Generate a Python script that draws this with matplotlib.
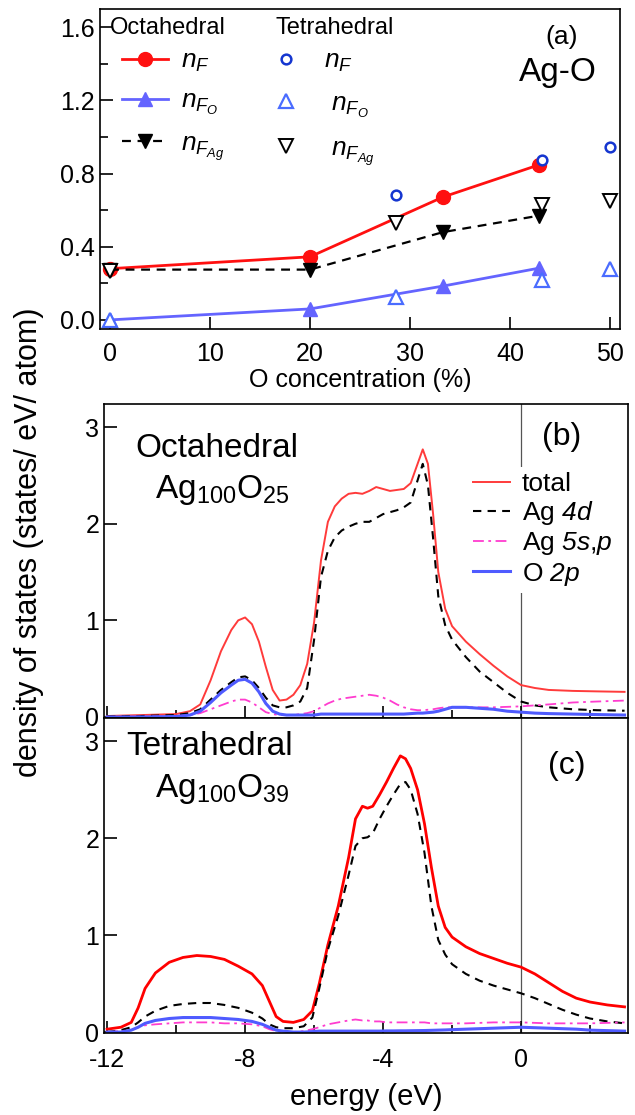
import matplotlib
matplotlib.use("Agg")
import matplotlib.pyplot as plt
from matplotlib.ticker import MultipleLocator

plt.rcParams['font.family'] = ['Liberation Sans', 'DejaVu Sans']
plt.rcParams['mathtext.fontset'] = 'custom'
plt.rcParams['mathtext.rm'] = 'Liberation Sans'
plt.rcParams['mathtext.it'] = 'Liberation Sans:italic'
plt.rcParams['mathtext.sf'] = 'Liberation Sans:italic'
plt.rcParams['axes.unicode_minus'] = False
plt.rcParams['axes.linewidth'] = 1.2

# ---- panel (a): n_F vs O concentration ----
conc_oct = [0, 20, 33.3, 42.9]
nF_oct = [0.28, 0.345, 0.672, 0.848]
nFO_oct = [0.0, 0.06, 0.185, 0.283]
nFAg_oct = [0.275, 0.275, 0.48, 0.57]

conc_tet = [0, 28.6, 43.2, 50]
nF_tet = [None, 0.684, 0.872, 0.948]
nFO_tet = [0.0, 0.126, 0.218, 0.277]
nFAg_tet = [0.27, 0.53, 0.63, 0.65]

# ---- panel (b): octahedral Ag100O25 DOS ----
energy_b = [-12.0, -11.0, -10.0, -9.6, -9.3, -9.0, -8.7, -8.4, -8.2, -8.0,
            -7.8, -7.6, -7.4, -7.2, -7.0, -6.8, -6.6, -6.4, -6.2, -6.0,
            -5.8, -5.6, -5.4, -5.2, -5.0, -4.8, -4.6, -4.4, -4.2, -4.0,
            -3.8, -3.6, -3.4, -3.2, -3.0, -2.85, -2.7, -2.55, -2.4, -2.2,
            -2.0, -1.6, -1.2, -0.8, -0.4, 0.0, 0.4, 0.8, 1.5, 2.2, 3.0]
total_b = [0.01, 0.02, 0.03, 0.06, 0.13, 0.38, 0.68, 0.90, 1.00, 1.03,
           0.96, 0.78, 0.52, 0.28, 0.17, 0.18, 0.23, 0.33, 0.55, 0.98,
           1.62, 2.02, 2.18, 2.26, 2.31, 2.32, 2.31, 2.34, 2.38, 2.36,
           2.34, 2.35, 2.36, 2.42, 2.62, 2.77, 2.62, 2.10, 1.50, 1.12,
           0.94, 0.78, 0.65, 0.53, 0.42, 0.33, 0.30, 0.28, 0.27, 0.265, 0.26]
ag4d_b = [0.005, 0.01, 0.02, 0.04, 0.08, 0.18, 0.28, 0.36, 0.41, 0.42,
          0.38, 0.30, 0.20, 0.12, 0.10, 0.10, 0.12, 0.16, 0.30, 0.80,
          1.45, 1.72, 1.86, 1.93, 1.97, 2.00, 2.02, 2.02, 2.06, 2.10,
          2.12, 2.14, 2.17, 2.22, 2.45, 2.62, 2.40, 1.85, 1.25, 0.95,
          0.80, 0.62, 0.47, 0.36, 0.25, 0.16, 0.12, 0.10, 0.08, 0.07, 0.065]
ag5sp_b = [0.0, 0.005, 0.01, 0.02, 0.04, 0.08, 0.12, 0.16, 0.18, 0.18,
           0.15, 0.10, 0.05, 0.03, 0.02, 0.02, 0.02, 0.03, 0.04, 0.06,
           0.10, 0.14, 0.17, 0.19, 0.20, 0.21, 0.22, 0.23, 0.22, 0.20,
           0.17, 0.13, 0.10, 0.08, 0.07, 0.07, 0.075, 0.08, 0.09, 0.10,
           0.10, 0.10, 0.10, 0.10, 0.105, 0.11, 0.12, 0.13, 0.15, 0.16, 0.17]
o2p_b = [0.0, 0.0, 0.005, 0.02, 0.06, 0.15, 0.25, 0.33, 0.38, 0.39,
         0.35, 0.26, 0.14, 0.06, 0.03, 0.02, 0.02, 0.02, 0.02, 0.02,
         0.03, 0.03, 0.03, 0.03, 0.03, 0.03, 0.03, 0.03, 0.03, 0.03,
         0.03, 0.03, 0.03, 0.035, 0.04, 0.04, 0.045, 0.05, 0.06, 0.08,
         0.10, 0.10, 0.09, 0.08, 0.06, 0.05, 0.04, 0.035, 0.03, 0.025, 0.02]

# ---- panel (c): tetrahedral Ag100O39 DOS ----
energy_c = [-12.0, -11.6, -11.3, -11.1, -10.9, -10.6, -10.2, -9.8, -9.4, -9.0,
            -8.6, -8.2, -7.8, -7.5, -7.3, -7.1, -6.9, -6.6, -6.3, -6.05,
            -5.85, -5.6, -5.3, -5.0, -4.8, -4.6, -4.45, -4.3, -4.1, -3.9,
            -3.7, -3.5, -3.35, -3.2, -3.0, -2.8, -2.6, -2.4, -2.2, -2.0,
            -1.6, -1.2, -0.8, -0.4, 0.0, 0.4, 0.8, 1.2, 1.6, 2.0, 2.5, 3.0]
total_c = [0.03, 0.05, 0.10, 0.25, 0.45, 0.61, 0.72, 0.77, 0.79, 0.78,
           0.75, 0.68, 0.60, 0.48, 0.32, 0.16, 0.11, 0.10, 0.13, 0.22,
           0.50, 0.90, 1.30, 1.80, 2.20, 2.33, 2.31, 2.33, 2.45, 2.58,
           2.72, 2.85, 2.82, 2.72, 2.50, 2.15, 1.70, 1.30, 1.08, 0.98,
           0.88, 0.81, 0.76, 0.71, 0.67, 0.60, 0.51, 0.42, 0.35, 0.31, 0.28, 0.26]
ag4d_c = [0.0, 0.02, 0.05, 0.10, 0.16, 0.22, 0.27, 0.29, 0.30, 0.30,
          0.28, 0.25, 0.20, 0.14, 0.08, 0.05, 0.04, 0.04, 0.06, 0.15,
          0.45, 0.85, 1.20, 1.62, 1.92, 2.00, 2.01, 2.05, 2.20, 2.33,
          2.45, 2.56, 2.58, 2.50, 2.25, 1.85, 1.30, 0.95, 0.80, 0.70,
          0.60, 0.53, 0.48, 0.44, 0.40, 0.35, 0.29, 0.23, 0.18, 0.14, 0.11, 0.09]
ag5sp_c = [0.0, 0.01, 0.02, 0.05, 0.07, 0.08, 0.09, 0.10, 0.10, 0.10,
           0.09, 0.09, 0.08, 0.06, 0.03, 0.01, 0.0, 0.0, 0.01, 0.03,
           0.05, 0.08, 0.10, 0.12, 0.13, 0.12, 0.12, 0.11, 0.11, 0.10,
           0.10, 0.10, 0.10, 0.10, 0.10, 0.10, 0.09, 0.09, 0.09, 0.09,
           0.09, 0.095, 0.10, 0.10, 0.10, 0.095, 0.09, 0.09, 0.09, 0.09, 0.095, 0.10]
o2p_c = [0.0, 0.0, 0.02, 0.05, 0.09, 0.12, 0.14, 0.15, 0.15, 0.15,
         0.14, 0.13, 0.11, 0.08, 0.05, 0.02, 0.01, 0.0, 0.0, 0.005,
         0.01, 0.01, 0.01, 0.01, 0.01, 0.01, 0.01, 0.01, 0.01, 0.012,
         0.012, 0.013, 0.013, 0.014, 0.015, 0.016, 0.018, 0.02, 0.022, 0.025,
         0.03, 0.035, 0.04, 0.045, 0.05, 0.045, 0.04, 0.035, 0.03, 0.02, 0.015, 0.01]

dos_labels = ['total', r'Ag $\mathsf{4d}$', r'Ag $\mathsf{5s}$,$\mathsf{p}$',
              r'O $\mathsf{2p}$']

fig = plt.figure(figsize=(6.35, 11.15), dpi=100)
ax_a = fig.add_axes([0.1575, 0.7049, 0.8189, 0.2870])
ax_b = fig.add_axes([0.1638, 0.3561, 0.8252, 0.2816])
ax_c = fig.add_axes([0.1638, 0.0735, 0.8252, 0.2825])

# panel (a)
l1, = ax_a.plot(conc_oct, nF_oct, '-o', color='#ff1010', lw=2, ms=10)
l2, = ax_a.plot(conc_oct, nFO_oct, '-^', color='#6464ff', lw=2, ms=10)
l3, = ax_a.plot(conc_oct, nFAg_oct, '--v', color='black', lw=1.6, ms=10,
                dashes=(4, 3))
t1, = ax_a.plot(conc_tet, [v if v is not None else float('nan') for v in nF_tet],
                'o', mfc='white', mec='#1536d0', mew=1.8, ms=7)
t2, = ax_a.plot(conc_tet, nFO_tet, '^', mfc='white', mec='#4a6cff', mew=1.6, ms=10)
t3, = ax_a.plot(conc_tet, nFAg_tet, 'v', mfc='white', mec='black', mew=1.4, ms=10)

ax_a.set_xlim(-1, 51)
ax_a.set_ylim(-0.05, 1.70)
ax_a.xaxis.set_major_locator(MultipleLocator(10))
ax_a.yaxis.set_major_locator(MultipleLocator(0.4))
ax_a.yaxis.set_minor_locator(MultipleLocator(0.2))
ax_a.yaxis.set_major_formatter(matplotlib.ticker.FormatStrFormatter('%.1f'))
ax_a.tick_params(direction='in', labelsize=18, length=9, width=1.2)
ax_a.tick_params(axis='x', pad=9)
ax_a.tick_params(which='minor', direction='in', length=6, width=1.2)
ax_a.set_xlabel('O concentration (%)', fontsize=18, labelpad=2)

ax_a.text(0.019, 0.94, 'Octahedral', transform=ax_a.transAxes, fontsize=17,
          ha='left', va='center')
ax_a.text(0.337, 0.94, 'Tetrahedral', transform=ax_a.transAxes, fontsize=17,
          ha='left', va='center')
leg1 = ax_a.legend([l1, l2, l3], [r'$n_F$', r'$n_{F_O}$', r'$n_{F_{Ag}}$'],
                   loc='upper left', bbox_to_anchor=(0.042, 0.875),
                   frameon=False, fontsize=19, borderpad=0, borderaxespad=0,
                   handlelength=1.75, handletextpad=0.5, labelspacing=0.55)
ax_a.add_artist(leg1)
ax_a.legend([t1, t2, t3], [r'$n_F$', r'$\ n_{F_O}$', r'$\ n_{F_{Ag}}$'],
            loc='upper left', bbox_to_anchor=(0.335, 0.875),
            frameon=False, fontsize=19, borderpad=0, borderaxespad=0,
            handlelength=0.9, handletextpad=1.0, labelspacing=0.65)
ax_a.text(0.888, 0.912, '(a)', transform=ax_a.transAxes, fontsize=19,
          ha='center', va='center')
ax_a.text(0.881, 0.803, 'Ag-O', transform=ax_a.transAxes, fontsize=24,
          ha='center', va='center')

# panels (b) and (c)
styles = [dict(color='#ff2a2a', lw=1.4, ls='-'),
          dict(color='black', lw=1.5, ls=(0, (4, 3))),
          dict(color='#ff3ccf', lw=1.3, ls=(0, (6, 2.5, 1.5, 2.5))),
          dict(color='#4f5bff', lw=2.2, ls='-')]

for ax, e, series in [(ax_b, energy_b, [total_b, ag4d_b, ag5sp_b, o2p_b]),
                      (ax_c, energy_c, [total_c, ag4d_c, ag5sp_c, o2p_c])]:
    assert all(len(s) == len(e) for s in series)
    lines = []
    for s, st in zip(series, styles):
        ln, = ax.plot(e, s, **st)
        lines.append(ln)
    ax.axvline(0, color='#555555', lw=0.9, zorder=0)
    ax.set_xlim(-12.09, 3.1)
    ax.set_ylim(-0.01, 3.24)
    ax.xaxis.set_major_locator(MultipleLocator(4))
    ax.xaxis.set_minor_locator(MultipleLocator(2))
    ax.yaxis.set_major_locator(MultipleLocator(1))
    ax.tick_params(direction='in', labelsize=18, length=9, width=1.2)
    ax.tick_params(axis='x', pad=11)
    ax.tick_params(which='minor', direction='in', length=6, width=1.2)
    if ax is ax_b:
        ax.tick_params(labelbottom=False)
        lines[0].set_color('#ff3b3b')
        ax.legend(lines, dos_labels, loc='upper left', bbox_to_anchor=(0.694, 0.80),
                  fontsize=19, handlelength=1.4, handletextpad=0.45,
                  labelspacing=0.12, frameon=True, facecolor='white',
                  edgecolor='none', framealpha=1, borderpad=0.2,
                  borderaxespad=0, fancybox=False)
    else:
        lines[0].set_color('#ff0000')
        lines[0].set_linewidth(2.0)

ax_b.text(0.216, 0.831, 'Octahedral', transform=ax_b.transAxes, fontsize=24,
          ha='center', va='baseline')
ax_b.text(0.225, 0.70, r'Ag$_{100}$O$_{25}$', transform=ax_b.transAxes, fontsize=24,
          ha='center', va='baseline')
ax_b.text(0.874, 0.895, '(b)', transform=ax_b.transAxes, fontsize=23,
          ha='center', va='center')

ax_c.text(0.202, 0.883, 'Tetrahedral', transform=ax_c.transAxes, fontsize=24,
          ha='center', va='baseline')
ax_c.text(0.225, 0.749, r'Ag$_{100}$O$_{39}$', transform=ax_c.transAxes, fontsize=24,
          ha='center', va='baseline')
ax_c.text(0.884, 0.848, '(c)', transform=ax_c.transAxes, fontsize=23,
          ha='center', va='center')
ax_c.set_xlabel('energy (eV)', fontsize=21, labelpad=8)

fig.text(0.045, 0.514, 'density of states (states/ eV/ atom)', rotation=90,
         fontsize=22, ha='center', va='center')

fig.savefig('out.png', dpi=100)
